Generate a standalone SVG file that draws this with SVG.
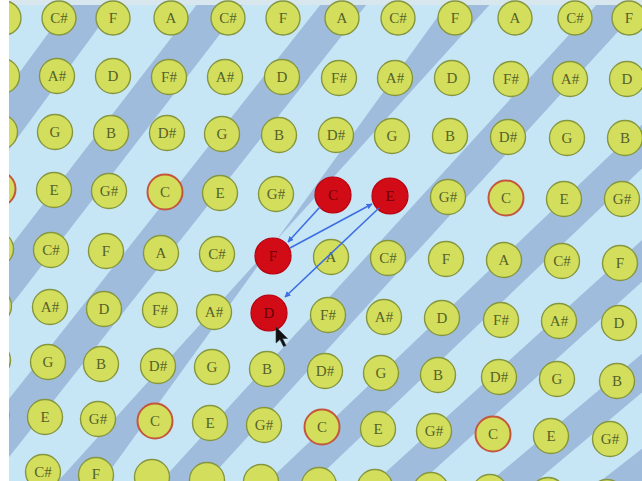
<svg xmlns="http://www.w3.org/2000/svg" width="642" height="481" viewBox="0 0 642 481">
<style>
.bg{fill:#c6e6f6}
.band{fill:#9fbcdc}
.nd circle{fill:#d3df5c;stroke:#86963f;stroke-width:1.4}
.nd text{font-family:"Liberation Serif",serif;font-size:15px;fill:#56622a;text-anchor:middle}
.ring circle{stroke:#c4563c;stroke-width:2}
.red circle{fill:#d20c16;stroke:#b8000e;stroke-width:1.2}
.red text{fill:#6a0008}
.conn line{stroke:#3e6fe2;stroke-width:1.6;fill:none}
</style>
<defs>
<marker id="ah" viewBox="0 0 10 10" refX="9" refY="5" markerWidth="6" markerHeight="6" orient="auto" markerUnits="userSpaceOnUse">
<path d="M0,0 L10,5 L0,10 z" fill="#3e6fe2"/>
</marker>
</defs>
<rect x="0" y="0" width="642" height="481" fill="#ffffff"/>
<g id="background">
<rect class="bg" x="9" y="0" width="633" height="481"/>
<polygon class="band" points="80,-10 126,-10 -241,490 -287,490"/>
<polygon class="band" points="208,-10 254,-10 -131,490 -177,490"/>
<polygon class="band" points="332,-10 378,-10 -17,490 -63,490"/>
<polygon class="band" points="457,-10 503,-10 50,490 96,490"/>
<polygon class="band" points="610,-10 656,-10 199,490 153,490"/>
<polygon class="band" points="783,-10 829,-10 305,490 259,490"/>
<polygon class="band" points="918,-10 964,-10 412,490 366,490"/>
<polygon class="band" points="1075,-10 1121,-10 526,490 480,490"/>
<polygon class="band" points="1230,-10 1276,-10 635,490 589,490"/>
<rect x="9" y="0" width="633" height="5" fill="#d8e6ee"/>
</g>
<g id="nodes">
<g id="r0c-1" class="nd"><circle cx="4" cy="18" r="17"/></g>
<g id="r0c0" class="nd"><circle cx="59" cy="18" r="17"/><text x="59" y="23">C#</text></g>
<g id="r0c1" class="nd"><circle cx="113" cy="18" r="17"/><text x="113" y="23">F</text></g>
<g id="r0c2" class="nd"><circle cx="171" cy="18" r="17"/><text x="171" y="23">A</text></g>
<g id="r0c3" class="nd"><circle cx="228" cy="18" r="17"/><text x="228" y="23">C#</text></g>
<g id="r0c4" class="nd"><circle cx="283" cy="18" r="17"/><text x="283" y="23">F</text></g>
<g id="r0c5" class="nd"><circle cx="342" cy="18" r="17"/><text x="342" y="23">A</text></g>
<g id="r0c6" class="nd"><circle cx="398" cy="18" r="17"/><text x="398" y="23">C#</text></g>
<g id="r0c7" class="nd"><circle cx="455" cy="18" r="17"/><text x="455" y="23">F</text></g>
<g id="r0c8" class="nd"><circle cx="515" cy="18" r="17"/><text x="515" y="23">A</text></g>
<g id="r0c9" class="nd"><circle cx="575" cy="18" r="17"/><text x="575" y="23">C#</text></g>
<g id="r0c10" class="nd"><circle cx="629" cy="18" r="17"/><text x="629" y="23">F</text></g>

<g id="r1c-1" class="nd"><circle cx="2" cy="76" r="17.5"/></g>
<g id="r1c0" class="nd"><circle cx="57" cy="76" r="17.5"/><text x="57" y="81">A#</text></g>
<g id="r1c1" class="nd"><circle cx="113" cy="76" r="17.5"/><text x="113" y="81">D</text></g>
<g id="r1c2" class="nd"><circle cx="169" cy="77" r="17.5"/><text x="169" y="82">F#</text></g>
<g id="r1c3" class="nd"><circle cx="225" cy="77" r="17.5"/><text x="225" y="82">A#</text></g>
<g id="r1c4" class="nd"><circle cx="282" cy="77" r="17.5"/><text x="282" y="82">D</text></g>
<g id="r1c5" class="nd"><circle cx="339" cy="78" r="17.5"/><text x="339" y="83">F#</text></g>
<g id="r1c6" class="nd"><circle cx="395" cy="78" r="17.5"/><text x="395" y="83">A#</text></g>
<g id="r1c7" class="nd"><circle cx="452" cy="78" r="17.5"/><text x="452" y="83">D</text></g>
<g id="r1c8" class="nd"><circle cx="511" cy="79" r="17.5"/><text x="511" y="84">F#</text></g>
<g id="r1c9" class="nd"><circle cx="570" cy="79" r="17.5"/><text x="570" y="84">A#</text></g>
<g id="r1c10" class="nd"><circle cx="627" cy="79" r="17.5"/><text x="627" y="84">D</text></g>

<g id="r2c-1" class="nd"><circle cx="0" cy="132" r="17.5"/></g>
<g id="r2c0" class="nd"><circle cx="55" cy="132" r="17.5"/><text x="55" y="137">G</text></g>
<g id="r2c1" class="nd"><circle cx="111" cy="133" r="17.5"/><text x="111" y="138">B</text></g>
<g id="r2c2" class="nd"><circle cx="167" cy="133" r="17.5"/><text x="167" y="138">D#</text></g>
<g id="r2c3" class="nd"><circle cx="222" cy="134" r="17.5"/><text x="222" y="139">G</text></g>
<g id="r2c4" class="nd"><circle cx="279" cy="135" r="17.5"/><text x="279" y="140">B</text></g>
<g id="r2c5" class="nd"><circle cx="336" cy="135" r="17.5"/><text x="336" y="140">D#</text></g>
<g id="r2c6" class="nd"><circle cx="392" cy="136" r="17.5"/><text x="392" y="141">G</text></g>
<g id="r2c7" class="nd"><circle cx="450" cy="136" r="17.5"/><text x="450" y="141">B</text></g>
<g id="r2c8" class="nd"><circle cx="508" cy="137" r="17.5"/><text x="508" y="142">D#</text></g>
<g id="r2c9" class="nd"><circle cx="567" cy="138" r="17.5"/><text x="567" y="143">G</text></g>
<g id="r2c10" class="nd"><circle cx="625" cy="138" r="17.5"/><text x="625" y="143">B</text></g>

<g id="r3c-1" class="nd ring"><circle cx="-2" cy="189" r="17.5"/></g>
<g id="r3c0" class="nd"><circle cx="54" cy="190" r="17.5"/><text x="54" y="195">E</text></g>
<g id="r3c1" class="nd"><circle cx="109" cy="191" r="17.5"/><text x="109" y="196">G#</text></g>
<g id="r3c2" class="nd ring"><circle cx="165" cy="192" r="17.5"/><text x="165" y="197">C</text></g>
<g id="r3c3" class="nd"><circle cx="220" cy="193" r="17.5"/><text x="220" y="198">E</text></g>
<g id="r3c4" class="nd"><circle cx="276" cy="194" r="17.5"/><text x="276" y="199">G#</text></g>
<g id="r3c5" class="nd red"><circle cx="333" cy="195" r="18"/><text x="333" y="200">C</text></g>
<g id="r3c6" class="nd red"><circle cx="390" cy="196" r="18"/><text x="390" y="201">E</text></g>
<g id="r3c7" class="nd"><circle cx="448" cy="197" r="17.5"/><text x="448" y="202">G#</text></g>
<g id="r3c8" class="nd ring"><circle cx="506" cy="198" r="17.5"/><text x="506" y="203">C</text></g>
<g id="r3c9" class="nd"><circle cx="564" cy="199" r="17.5"/><text x="564" y="204">E</text></g>
<g id="r3c10" class="nd"><circle cx="622" cy="199" r="17.5"/><text x="622" y="204">G#</text></g>

<g id="r4c-1" class="nd"><circle cx="-4" cy="249" r="17.5"/></g>
<g id="r4c0" class="nd"><circle cx="51" cy="250" r="17.5"/><text x="51" y="255">C#</text></g>
<g id="r4c1" class="nd"><circle cx="106" cy="251" r="17.5"/><text x="106" y="256">F</text></g>
<g id="r4c2" class="nd"><circle cx="161" cy="253" r="17.5"/><text x="161" y="258">A</text></g>
<g id="r4c3" class="nd"><circle cx="217" cy="254" r="17.5"/><text x="217" y="259">C#</text></g>
<g id="r4c4" class="nd red"><circle cx="273" cy="256" r="18"/><text x="273" y="261">F</text></g>
<g id="r4c5" class="nd"><circle cx="331" cy="257" r="17.5"/><text x="331" y="262">A</text></g>
<g id="r4c6" class="nd"><circle cx="388" cy="258" r="17.5"/><text x="388" y="263">C#</text></g>
<g id="r4c7" class="nd"><circle cx="446" cy="259" r="17.5"/><text x="446" y="264">F</text></g>
<g id="r4c8" class="nd"><circle cx="504" cy="260" r="17.5"/><text x="504" y="265">A</text></g>
<g id="r4c9" class="nd"><circle cx="562" cy="261" r="17.5"/><text x="562" y="266">C#</text></g>
<g id="r4c10" class="nd"><circle cx="620" cy="263" r="17.5"/><text x="620" y="268">F</text></g>

<g id="r5c-1" class="nd"><circle cx="-6" cy="306" r="17.5"/></g>
<g id="r5c0" class="nd"><circle cx="50" cy="307" r="17.5"/><text x="50" y="312">A#</text></g>
<g id="r5c1" class="nd"><circle cx="104" cy="309" r="17.5"/><text x="104" y="314">D</text></g>
<g id="r5c2" class="nd"><circle cx="160" cy="310" r="17.5"/><text x="160" y="315">F#</text></g>
<g id="r5c3" class="nd"><circle cx="214" cy="312" r="17.5"/><text x="214" y="317">A#</text></g>
<g id="r5c4" class="nd red"><circle cx="269" cy="313" r="18"/><text x="269" y="318">D</text></g>
<g id="r5c5" class="nd"><circle cx="328" cy="315" r="17.5"/><text x="328" y="320">F#</text></g>
<g id="r5c6" class="nd"><circle cx="384" cy="317" r="17.5"/><text x="384" y="322">A#</text></g>
<g id="r5c7" class="nd"><circle cx="442" cy="318" r="17.5"/><text x="442" y="323">D</text></g>
<g id="r5c8" class="nd"><circle cx="501" cy="320" r="17.5"/><text x="501" y="325">F#</text></g>
<g id="r5c9" class="nd"><circle cx="559" cy="321" r="17.5"/><text x="559" y="326">A#</text></g>
<g id="r5c10" class="nd"><circle cx="619" cy="323" r="17.5"/><text x="619" y="328">D</text></g>

<g id="r6c-1" class="nd"><circle cx="-7" cy="360" r="17.5"/></g>
<g id="r6c0" class="nd"><circle cx="48" cy="362" r="17.5"/><text x="48" y="367">G</text></g>
<g id="r6c1" class="nd"><circle cx="101" cy="364" r="17.5"/><text x="101" y="369">B</text></g>
<g id="r6c2" class="nd"><circle cx="158" cy="366" r="17.5"/><text x="158" y="371">D#</text></g>
<g id="r6c3" class="nd"><circle cx="212" cy="367" r="17.5"/><text x="212" y="372">G</text></g>
<g id="r6c4" class="nd"><circle cx="267" cy="369" r="17.5"/><text x="267" y="374">B</text></g>
<g id="r6c5" class="nd"><circle cx="325" cy="371" r="17.5"/><text x="325" y="376">D#</text></g>
<g id="r6c6" class="nd"><circle cx="381" cy="373" r="17.5"/><text x="381" y="378">G</text></g>
<g id="r6c7" class="nd"><circle cx="438" cy="375" r="17.5"/><text x="438" y="380">B</text></g>
<g id="r6c8" class="nd"><circle cx="499" cy="377" r="17.5"/><text x="499" y="382">D#</text></g>
<g id="r6c9" class="nd"><circle cx="557" cy="379" r="17.5"/><text x="557" y="384">G</text></g>
<g id="r6c10" class="nd"><circle cx="617" cy="381" r="17.5"/><text x="617" y="386">B</text></g>

<g id="r7c-1" class="nd ring"><circle cx="-9" cy="415" r="17.5"/></g>
<g id="r7c0" class="nd"><circle cx="45" cy="417" r="17.5"/><text x="45" y="422">E</text></g>
<g id="r7c1" class="nd"><circle cx="98" cy="419" r="17.5"/><text x="98" y="424">G#</text></g>
<g id="r7c2" class="nd ring"><circle cx="155" cy="421" r="17.5"/><text x="155" y="426">C</text></g>
<g id="r7c3" class="nd"><circle cx="210" cy="423" r="17.5"/><text x="210" y="428">E</text></g>
<g id="r7c4" class="nd"><circle cx="264" cy="425" r="17.5"/><text x="264" y="430">G#</text></g>
<g id="r7c5" class="nd ring"><circle cx="322" cy="427" r="17.5"/><text x="322" y="432">C</text></g>
<g id="r7c6" class="nd"><circle cx="378" cy="429" r="17.5"/><text x="378" y="434">E</text></g>
<g id="r7c7" class="nd"><circle cx="434" cy="431" r="17.5"/><text x="434" y="436">G#</text></g>
<g id="r7c8" class="nd ring"><circle cx="493" cy="434" r="17.5"/><text x="493" y="439">C</text></g>
<g id="r7c9" class="nd"><circle cx="551" cy="436" r="17.5"/><text x="551" y="441">E</text></g>
<g id="r7c10" class="nd"><circle cx="610" cy="439" r="17.5"/><text x="610" y="444">G#</text></g>

<g id="r8c-1" class="nd"><circle cx="-12" cy="471" r="17.5"/></g>
<g id="r8c0" class="nd"><circle cx="43" cy="472" r="17.5"/><text x="43" y="477">C#</text></g>
<g id="r8c1" class="nd"><circle cx="96" cy="475" r="17.5"/><text x="96" y="478.5">F</text></g>
<g id="r8c2" class="nd"><circle cx="152" cy="477" r="17.5"/></g>
<g id="r8c3" class="nd"><circle cx="207" cy="480" r="17.5"/></g>
<g id="r8c4" class="nd"><circle cx="261" cy="482" r="17.5"/></g>
<g id="r8c5" class="nd"><circle cx="319" cy="485" r="17.5"/></g>
<g id="r8c6" class="nd"><circle cx="375" cy="487" r="17.5"/></g>
<g id="r8c7" class="nd"><circle cx="431" cy="490" r="17.5"/></g>
<g id="r8c8" class="nd"><circle cx="490" cy="492" r="17.5"/></g>
<g id="r8c9" class="nd"><circle cx="548" cy="495" r="17.5"/></g>
<g id="r8c10" class="nd"><circle cx="607" cy="497" r="17.5"/></g>
</g>
<g id="connectors" class="conn">
<line x1="320" y1="207" x2="288" y2="242" marker-end="url(#ah)"/>
<line x1="290" y1="248" x2="372" y2="204" marker-end="url(#ah)"/>
<line x1="379" y1="208" x2="285" y2="297" marker-end="url(#ah)"/>
</g>
<g id="cursor">
<polygon points="276,327 276,343 280,339.5 283.5,346.5 286,345.5 282.5,338.5 287.5,338.5" fill="#111111" stroke="#333333" stroke-width="0.6"/>
</g>
<rect x="0" y="0" width="9" height="481" fill="#ffffff"/>
</svg>
